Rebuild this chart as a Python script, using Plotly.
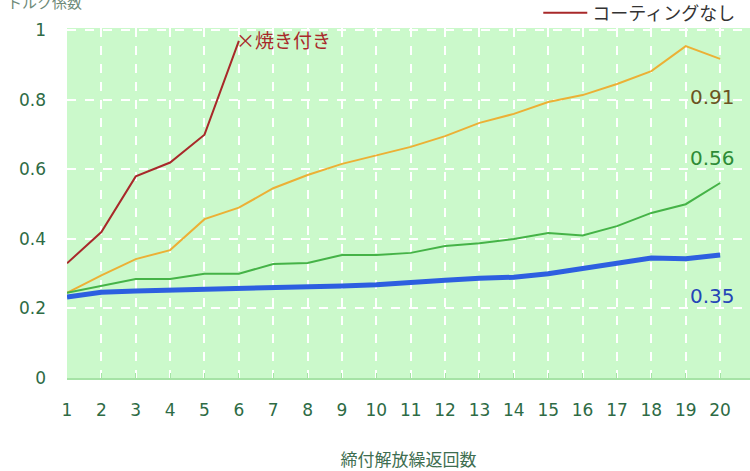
import plotly.graph_objects as go

cycles = list(range(1, 21))
no_coating = [0.33, 0.42, 0.58, 0.62, 0.70, 0.97]
series_orange = [0.245, 0.295, 0.342, 0.368, 0.457, 0.49, 0.546, 0.584, 0.616, 0.64,
                 0.665, 0.696, 0.734, 0.76, 0.794, 0.814, 0.846, 0.883, 0.955, 0.918]
series_green = [0.245, 0.265, 0.285, 0.285, 0.30, 0.30, 0.328, 0.331, 0.354, 0.354,
                0.36, 0.38, 0.388, 0.40, 0.417, 0.41, 0.437, 0.475, 0.50, 0.561]
series_blue = [0.233, 0.247, 0.25, 0.252, 0.254, 0.256, 0.258, 0.261, 0.265, 0.268,
               0.273, 0.281, 0.287, 0.29, 0.30, 0.316, 0.33, 0.345, 0.343, 0.354]
y_ticks = [0, 0.2, 0.4, 0.6, 0.8, 1.0]
y_tick_text = ["0", "0.2", "0.4", "0.6", "0.8", "1"]
end_labels = ["0.91", "0.56", "0.35"]

FONT = "Noto Sans CJK JP"
NUMFONT = "DejaVu Sans, Noto Sans CJK JP"
TICK = "#2E6B45"

fig = go.Figure()
fig.add_trace(go.Scatter(x=cycles, y=series_orange, mode="lines",
                         line=dict(color="#ECB035", width=2), showlegend=False))
fig.add_trace(go.Scatter(x=cycles, y=series_green, mode="lines",
                         line=dict(color="#45B347", width=2), showlegend=False))
fig.add_trace(go.Scatter(x=cycles, y=series_blue, mode="lines",
                         line=dict(color="#2D5FE0", width=5), showlegend=False))
fig.add_trace(go.Scatter(x=cycles[:len(no_coating)], y=no_coating, mode="lines",
                         name="コーティングなし",
                         line=dict(color="#A8292A", width=2)))

fig.add_annotation(x=6, y=0.975, xref="x", yref="y", text="×焼き付き",
                   showarrow=False, xanchor="left", yanchor="middle", xshift=-5,
                   font=dict(family=FONT, size=19, color="#A8292A"))
label_colors = ["#6B5322", "#2E8B37", "#2445B8"]
label_y = [0.809, 0.633, 0.236]
for txt, col, yy in zip(end_labels, label_colors, label_y):
    fig.add_annotation(x=20, y=yy, xref="x", yref="y", text=txt, showarrow=False,
                       xanchor="center", yanchor="middle", xshift=-8,
                       font=dict(family=NUMFONT, size=20, color=col))

fig.add_annotation(x=0.0, y=1.0, xref="paper", yref="paper", text="トルク係数",
                   showarrow=False, xanchor="left", yanchor="bottom",
                   xshift=-62, yshift=14,
                   font=dict(family=FONT, size=15, color="#6E8A78"))

fig.update_layout(
    width=750, height=471,
    margin=dict(l=67, r=0, t=28, b=93, autoexpand=False),
    paper_bgcolor="white",
    plot_bgcolor="#CBF9CB",
    font=dict(family=FONT, color=TICK),
    legend=dict(orientation="h", x=0.69, xanchor="left", y=0.99, yanchor="bottom",
                bgcolor="rgba(0,0,0,0)", font=dict(family=FONT, size=18, color="#333333"),
                itemwidth=44, traceorder="normal"),
    xaxis=dict(range=[1, 20.87], tickvals=cycles, tickmode="array",
               showgrid=True, gridcolor="white", griddash="dash", gridwidth=1.5,
               zeroline=False, showline=True, linecolor="#A6E3A6", linewidth=1.5,
               ticks="inside", ticklen=5, tickcolor="#A6E3A6",
               ticklabelstandoff=16,
               tickfont=dict(family=NUMFONT, size=17, color=TICK),
               title=dict(text="締付解放繰返回数", standoff=36,
                          font=dict(family=FONT, size=17, color="#3E6E50"))),
    yaxis=dict(range=[0, 1.007], tickvals=y_ticks, ticktext=y_tick_text,
               showgrid=True, gridcolor="white", griddash="dash", gridwidth=1.5,
               zeroline=False, showline=False, ticklabelstandoff=20,
               tickfont=dict(family=NUMFONT, size=17, color=TICK)),
)

fig.write_html("out.html", config={"displayModeBar": False},
               post_script="document.body.style.margin='0';")
